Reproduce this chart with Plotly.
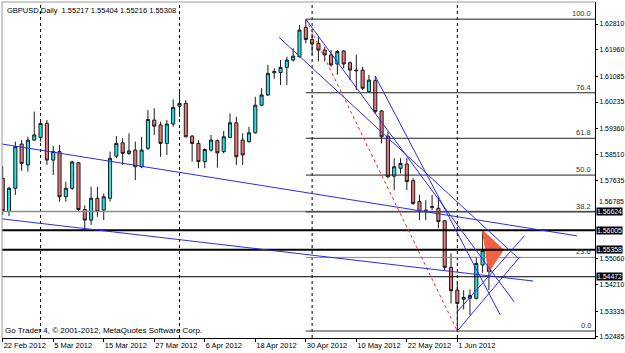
import plotly.graph_objects as go
import pandas as pd

# ---------------- data ----------------
dates = pd.bdate_range("2012-02-22", "2012-06-11")
bar_idx = list(range(len(dates)))

opens = [1.5772, 1.5662, 1.5739, 1.5885, 1.5816, 1.5898, 1.5907, 1.5953, 1.5832, 1.5860,
         1.5711, 1.5739, 1.5823, 1.5669, 1.5634, 1.5706, 1.5667, 1.5706, 1.5845, 1.5889,
         1.5854, 1.5865, 1.5810, 1.5871, 1.5964, 1.5948, 1.5887, 1.5951, 1.6010, 1.6019,
         1.5911, 1.5887, 1.5827, 1.5865, 1.5896, 1.5860, 1.5907, 1.5955, 1.5898, 1.5893,
         1.5922, 1.6013, 1.6047, 1.6120, 1.6121, 1.6138, 1.6162, 1.6173, 1.6270, 1.6230,
         1.6217, 1.6195, 1.6179, 1.6149, 1.6192, 1.6153, 1.6129, 1.6129, 1.6058, 1.6094,
         1.5994, 1.5911, 1.5779, 1.5805, 1.5819, 1.5764, 1.5695, 1.5667, 1.5676, 1.5673,
         1.5632, 1.5478, 1.5403, 1.5373, 1.5376, 1.5376, 1.5486, 1.5533, 1.55217]
highs = [1.5813, 1.5744, 1.5893, 1.5898, 1.5909, 1.5992, 1.5959, 1.5964, 1.5879, 1.5882,
         1.5761, 1.5830, 1.5826, 1.5683, 1.5744, 1.5744, 1.5722, 1.5860, 1.5911, 1.5904,
         1.5920, 1.5893, 1.5909, 1.5997, 1.6003, 1.5959, 1.5964, 1.6032, 1.6058, 1.6030,
         1.5915, 1.5898, 1.5871, 1.5915, 1.5900, 1.5928, 1.5986, 1.5975, 1.5920, 1.5942,
         1.6041, 1.6069, 1.6146, 1.6135, 1.6162, 1.6173, 1.6201, 1.6278, 1.6297, 1.6250,
         1.6239, 1.6206, 1.6195, 1.6195, 1.6195, 1.6157, 1.6179, 1.6140, 1.6113, 1.6109,
         1.5997, 1.5926, 1.5838, 1.5838, 1.5838, 1.5772, 1.5717, 1.5700, 1.5717, 1.5711,
         1.5634, 1.5524, 1.5431, 1.5403, 1.5405, 1.5513, 1.5600, 1.5541, 1.55404]
lows = [1.5651, 1.5647, 1.5717, 1.5797, 1.5794, 1.5896, 1.5893, 1.5816, 1.5783, 1.5695,
        1.5695, 1.5733, 1.5662, 1.5601, 1.5618, 1.5645, 1.5634, 1.5695, 1.5838, 1.5816,
        1.5849, 1.5766, 1.5805, 1.5865, 1.5915, 1.5843, 1.5849, 1.5942, 1.5975, 1.5907,
        1.5827, 1.5805, 1.5805, 1.5860, 1.5807, 1.5854, 1.5904, 1.5816, 1.5816, 1.5889,
        1.5920, 1.6010, 1.6043, 1.6100, 1.6080, 1.6080, 1.6157, 1.6171, 1.6217, 1.6179,
        1.6157, 1.6157, 1.6140, 1.6113, 1.6135, 1.6096, 1.6063, 1.6063, 1.6054, 1.5986,
        1.5887, 1.5772, 1.5733, 1.5788, 1.5733, 1.5684, 1.5634, 1.5634, 1.5667, 1.5607,
        1.5469, 1.5359, 1.5268, 1.5339, 1.5321, 1.5372, 1.5460, 1.5403, 1.55216]
closes = [1.5665, 1.5739, 1.5876, 1.5821, 1.5898, 1.5915, 1.5953, 1.5832, 1.5860, 1.5711,
          1.5739, 1.5826, 1.5669, 1.5634, 1.5706, 1.5662, 1.5711, 1.5838, 1.5887, 1.5854,
          1.5862, 1.5810, 1.5865, 1.5966, 1.5944, 1.5887, 1.5951, 1.6006, 1.6019, 1.5909,
          1.5887, 1.5827, 1.5867, 1.5898, 1.5856, 1.5909, 1.5955, 1.5843, 1.5849, 1.5922,
          1.6013, 1.6047, 1.6118, 1.6124, 1.6138, 1.6162, 1.6175, 1.6261, 1.6230, 1.6215,
          1.6195, 1.6179, 1.6146, 1.6190, 1.6149, 1.6129, 1.6127, 1.6069, 1.6096, 1.5992,
          1.5909, 1.5777, 1.5810, 1.5821, 1.5761, 1.5689, 1.5662, 1.5664, 1.5678, 1.5629,
          1.5478, 1.5401, 1.5359, 1.5379, 1.5385, 1.5491, 1.5533, 1.5464, 1.55308]

# price axis tick labels
price_ticks = [1.62810, 1.61960, 1.61085, 1.60235, 1.59360, 1.58510, 1.57635,
               1.55060, 1.54210, 1.53335, 1.52485]
partly_hidden_tick = 1.56785
# horizontal levels (highlighted on the price scale)
hline_prices = [1.56624, 1.56005, 1.55358, 1.54472]
hline_colors = ["#8c8c8c", "#000000", "#000000", "#000000"]
hline_widths = [1.5, 2, 2, 1]

# fibonacci retracement anchors (bar index, price)
fib_hi_bar, fib_hi = 48, 1.6297
fib_lo_bar, fib_lo = 72, 1.5268
fib_levels = [0.0, 23.6, 38.2, 50.0, 61.8, 76.4, 100.0]
fib_colors = ["#333333", "#8a8a8a", "#222222", "#222222", "#222222", "#222222", "#222222"]

# blue trend lines: (bar0, price0, bar1, price1)
trend_lines = [
    (-0.11, 1.5885, 90.96, 1.5582),
    (-0.11, 1.5638, 84.0, 1.5433),
    (48.0, 1.6297, 81.0, 1.5364),
    (43.76, 1.6237, 81.6, 1.5509),
    (59.0, 1.6109, 78.8, 1.5321),
    (72.0, 1.5332, 82.6, 1.5582),
    (72.0, 1.5268, 81.9, 1.5513),
]

# triangle (bar, price)
tri_bars = [76.0, 79.3, 77.0, 76.0]
tri_prices = [1.5600, 1.5536, 1.5464, 1.5600]

# month separators (bar index)
separators = [6, 28, 49, 72]
date_tick_idx = list(range(0, 73, 8))
date_tick_text = [f"{dates[i].day} {dates[i].strftime('%b')} {dates[i].year}" for i in date_tick_idx]

# ---------------- figure ----------------
FONT = "Liberation Sans, Arial, sans-serif"
X_RANGE = [-0.11, 93.8]
Y_RANGE = [1.52450, 1.63536]
AX_FS = 6.9

fig = go.Figure()

fig.add_trace(go.Scatter(
    x=tri_bars, y=tri_prices, mode="lines", fill="toself",
    fillcolor="#F4603F", line=dict(color="#F4603F", width=1), hoverinfo="skip", showlegend=False))

fig.add_trace(go.Candlestick(
    x=bar_idx, open=opens, high=highs, low=lows, close=closes,
    increasing=dict(fillcolor="#1FE3E6", line=dict(color="#1a1a1a", width=1)),
    decreasing=dict(fillcolor="#E8777A", line=dict(color="#1a1a1a", width=1)),
    whiskerwidth=0, showlegend=False, hoverinfo="skip"))

shapes = []
for s in separators:
    shapes.append(dict(type="line", xref="x", yref="paper", x0=s, x1=s, y0=0, y1=1,
                       line=dict(color="#000000", width=1, dash="dot"), layer="below"))

for p, c, w in zip(hline_prices, hline_colors, hline_widths):
    shapes.append(dict(type="line", xref="paper", yref="y", x0=0, x1=1, y0=p, y1=p,
                       line=dict(color=c, width=w)))

annotations = []
for lvl, c in zip(fib_levels, fib_colors):
    p = fib_lo + (fib_hi - fib_lo) * lvl / 100.0
    shapes.append(dict(type="line", xref="x", yref="y", x0=fib_hi_bar, x1=X_RANGE[1], y0=p, y1=p,
                       line=dict(color=c, width=1)))
    annotations.append(dict(xref="paper", yref="y", x=0.997, y=p, text=f"{lvl:.1f}",
                            xanchor="right", yanchor="bottom", showarrow=False, yshift=-1,
                            font=dict(family=FONT, size=7.5, color="#333333")))

shapes.append(dict(type="line", xref="x", yref="y", x0=fib_hi_bar, y0=fib_hi, x1=fib_lo_bar, y1=fib_lo,
                   line=dict(color="#FF2020", width=1, dash="dot")))

for b0, p0, b1, p1 in trend_lines:
    shapes.append(dict(type="line", xref="x", yref="y", x0=b0, y0=p0, x1=b1, y1=p1,
                       line=dict(color="#2B2BF0", width=1)))

# frame (top/left gray)
shapes.append(dict(type="line", xref="paper", yref="paper", x0=0, x1=1, y0=1, y1=1,
                   line=dict(color="#9a9a9a", width=1)))
shapes.append(dict(type="line", xref="paper", yref="paper", x0=0, x1=0, y0=0, y1=1,
                   line=dict(color="#9a9a9a", width=1)))

# partly hidden price label (nudged up to stay clear of the box below)
annotations.append(dict(xref="paper", yref="y", x=1.0, y=partly_hidden_tick, xanchor="left",
                        yanchor="bottom", xshift=2, yshift=0, text=f"{partly_hidden_tick:.5f}",
                        showarrow=False, font=dict(family=FONT, size=AX_FS, color="#000000")))

for p in hline_prices:
    annotations.append(dict(xref="paper", yref="y", x=1.0, y=p, xanchor="left", yanchor="middle",
                            xshift=1, text=f"{p:.5f}", showarrow=False, bgcolor="#000000",
                            borderpad=0, font=dict(family=FONT, size=AX_FS, color="#FFFFFF")))

annotations.append(dict(xref="paper", yref="paper", x=0.005, y=0.995, xanchor="left", yanchor="top",
                        text="GBPUSD,Daily  1.55217 1.55404 1.55216 1.55308", showarrow=False,
                        font=dict(family=FONT, size=7.5, color="#000000")))
annotations.append(dict(xref="paper", yref="paper", x=0.0, y=0.0, xanchor="left", yanchor="bottom",
                        xshift=1, yshift=1,
                        text="Go Trader 4, © 2001-2012, MetaQuotes Software Corp.", showarrow=False,
                        font=dict(family=FONT, size=8, color="#000000")))

fig.update_layout(
    width=625, height=353,
    margin=dict(l=2, r=30, t=2, b=15),
    paper_bgcolor="#FFFFFF", plot_bgcolor="#FFFFFF",
    showlegend=False,
    shapes=shapes, annotations=annotations,
    xaxis=dict(range=X_RANGE, rangeslider=dict(visible=False), showgrid=False, zeroline=False,
               automargin=False, tickangle=0,
               tickmode="array", tickvals=date_tick_idx, ticktext=date_tick_text,
               ticks="outside", ticklen=3, tickcolor="#000000", ticklabelposition="outside right",
               showline=True, linecolor="#000000", linewidth=1,
               tickfont=dict(family=FONT, size=7.5, color="#000000")),
    yaxis=dict(range=Y_RANGE, side="right", showgrid=False, zeroline=False, automargin=False,
               tickmode="array", tickvals=price_ticks, ticktext=[f"{v:.5f}" for v in price_ticks],
               ticks="outside", ticklen=2, tickcolor="#000000",
               showline=True, linecolor="#000000", linewidth=1,
               tickfont=dict(family=FONT, size=AX_FS, color="#000000")),
)

fig.write_html("out.html")
